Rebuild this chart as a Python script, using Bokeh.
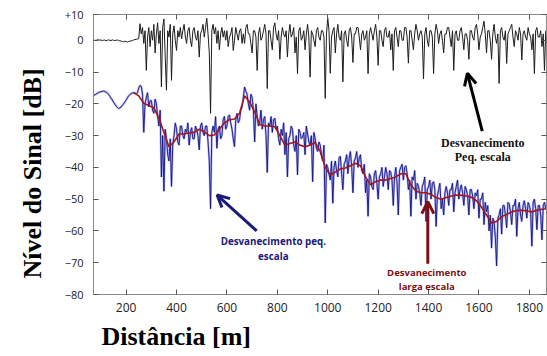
import numpy as np
from bokeh.plotting import figure
from bokeh.models import Range1d, LinearAxis, FixedTicker, Label, Arrow, OpenHead, Title
from bokeh.embed import file_html
from bokeh.resources import INLINE

# sampling grid of the measured signals (5 m step from 70 m)
start_m = 70
step_m = 5

# small-scale fading (black), one row = 100 m
black = [
    0.1, 0, -0.1, 0.1, 0.2, 0, 0.1, -0.1, 0, 0.1, -0.2, 0, 0.1, 0, -0.1, 0.1, 0, -0.1, 0, 0.1,
    -0.2, -0.1, -0.3, -0.4, -0.5, -0.3, -0.4, -0.6, -0.4, -0.3, -0.2, -0.1, 0.1, 0.2, 0.3, 0.4, 0.5, 5.2, 2, 4,
    -1, 3, -9.5, 1, 4, -2, 3, 0, 5, -4, 2, 5.5, -1, 3, -14.7, 4, 6.7, -5, -15.7, 3,
    1, 5, -12.6, 2, 4.5, 0, -3.2, 3, 1, 4, 0.5, 3, 5, 1, -1, 3, 4, 0, -2, 3,
    4, 1, 0, 3, -5.3, 2, 3, 5, 1, 4, 6.9, 2, -4, -23, 3, 5, 2, 4, -1, 3,
    -3, 2, 4, 1, 3, 0, 3, -2, 1, 2, 4, -3.2, 0, 4, 2, 0, 3, 3.6, -1, 2,
    -1, 4, 5, 2, 2, -1, -4, 3, 3, 1, -9.5, 2, 4, 0, 1, 3, 5, 2, -15.2, 3,
    3, 0, -3, 4, 5.5, 2, 0, 3, -6, 1, 4, 2, 1, 3, -5.3, 2, 5, 1, 2, 4,
    -4, 1, -10.5, 3, 4, 0, 1, 3, -3, 2, 5, 1, -11.6, 3, 2, 0, -2, 3, 4, 1,
    0, 3, 3, 1, -18.3, 2, 7, 3, -10.4, 1, 3, 4, -4, 2, 5, 1, 0, 3, -13.1, 2,
    3, 0, -2, 3, 4, 1, -7, 2, 2, 4, 4, 1, -3, 2, 3, 0, 1, 3, -10.5, 2,
    4, 2, 0, 3, 5, 1, -7.9, 3, 3, 0, -2, 3, 4, 1, 1, 3, -3, 2, -9.5, 3,
    4, 1, -2, 3, 3, 0, 0, 4, 4, 1, -7.2, 3, 3, 0, -3, 2, 5, 3, 0, 2,
    3, 1, -12.1, 2, 4, 0, -2, 3, 3, 1, -10.5, 2, 5, 3, -1, 2, 3, 0, -4, 2,
    2, 4, 4, 1, -2, 3, -9.5, 2, 3, 0, 0, 3, 4, 1, -3, 2, 2, 0, -6, 3,
    3, 1, 0, 4, 5, 2, -3, 1, 2, 4, 6, 2, -4, 3, 3, 0, -6, 2, 5, 1,
    -1, 2, -13.6, 3, 4, 1, 0, 3, -7.3, 2, 3, 4, 5, 1, -2, 3, 2, 0, 4, 2,
    -6.2, 2, 3, 1, 0, 4, 2, 1, -3, 2, -10.5, 3, 4, 1, 1, 3, -2, 2, -9.5, 3,
]

# received signal (blue), one row = 100 m
blue = [
    -17.5, -17.2, -17, -16.7, -16.5, -16.3, -16.2, -16.1, -16, -16.1, -16.3, -16.6, -17, -17.6, -18.2, -18.8, -19.5, -20.1, -20.7, -21.1,
    -21.5, -21.3, -21, -20.5, -20, -19.4, -18.8, -18.1, -17.5, -17.1, -16.8, -16.6, -16.5, -16.6, -16.8, -16.5, -15, -14.2, -14.5, -17,
    -29, -20, -18, -16.5, -21, -19, -19, -22, -23, -18.5, -20, -24, -27, -22, -43, -30, -47.5, -28, -31, -36,
    -38, -31, -46, -33, -30, -26, -28, -32, -33, -27, -27, -30, -31, -28, -29, -26, -33, -29, -27.5, -31,
    -31, -27, -28, -30, -34.5, -27, -26, -29, -30, -27, -27, -32, -38, -53, -29, -27, -29, -24, -34, -28,
    -27, -31, -30, -25, -24, -28, -27, -24, -23.5, -26, -28, -31, -33.5, -25, -23, -26, -25, -22, -21, -18,
    -14.7, -16, -17, -20, -22, -17, -18, -22, -32, -20, -24, -27, -26, -22, -28, -25, -24, -30, -41.6, -26,
    -27, -24, -29, -25, -24.5, -28, -27, -31, -33, -28, -30, -26, -36, -29, -43, -31, -30, -27, -28, -33,
    -35, -30, -42.4, -28, -29, -31, -30.5, -29, -36, -27, -29.5, -32, -33, -30, -44.5, -29, -31, -34, -35, -32,
    -33, -36, -38, -33, -57.5, -39, -40, -42, -44, -38, -51.3, -40, -38, -41, -43, -37, -36.5, -42, -47, -39,
    -38, -36, -42, -37, -35, -40, -48, -38, -37, -35, -40, -37, -36, -41, -42, -39, -48, -44, -55.4, -42,
    -43, -46, -47, -42, -41, -45, -50, -43, -42, -40, -46, -43, -40, -42, -47, -41, -41.5, -44, -52, -43,
    -40, -45, -55, -41, -40, -39, -44, -40, -39.5, -42, -47, -44, -55.4, -43, -44, -41, -50, -45, -46, -48,
    -52, -46, -45, -43, -57, -47, -46, -44, -50, -45, -44.5, -47, -58.6, -49, -47, -45, -53, -50, -55, -48,
    -46, -48, -52, -47, -47, -45, -54, -48, -46, -44, -50, -47, -45.5, -48, -52, -46, -47, -49, -55, -47,
    -47, -49, -53, -48, -49, -47, -56, -50, -50, -48, -58, -51, -54, -52, -60, -55, -65.4, -56, -57, -62,
    -71, -56, -55, -53, -61, -52, -52, -55, -59, -51, -51.5, -54, -58, -52, -52, -50, -61.7, -53, -51, -55,
    -57, -52, -50.5, -53, -56, -51, -52, -54, -64.8, -51, -50, -53, -59.6, -52, -52, -55, -62.8, -52, -51, -53,
]

# large-scale fading (red)
red_x = list(range(230, 1851, 20)) + [1868]
red = [
    -16.5, -17.5,
    -19.8, -20.5, -21.3, -24.5, -29, -33.5, -32, -29.5, -29.5, -29.2,
    -29, -28, -28.8, -30, -29.8, -28, -26, -25, -24.8, -23,
    -17.5, -19.5, -22.5, -26.5, -27, -27, -27.2, -30, -33, -32.5,
    -32, -33, -33.5, -33, -32.2, -35, -40, -42.4, -41.5, -40.5,
    -40.2, -39.5, -38.7, -39.5, -43, -45.5, -44.5, -44, -44, -43.5,
    -43, -42, -42, -45.5, -47.5, -48, -48, -48.5, -49.5, -50,
    -49.5, -49, -48.7, -48.8, -49, -49.4, -50.5, -52.5, -55, -57.5,
    -57, -55.5, -54.8, -54, -53.6, -53.5, -53.7, -54, -53.5, -53.2,
    -53,
]

x_ticks = [200, 400, 600, 800, 1000, 1200, 1400, 1600, 1800]
y_ticks = [-80, -70, -60, -50, -40, -30, -20, -10, 0, 8.1]
y_tick_labels = {8.1: "+10"}

dist_black = start_m + step_m * np.arange(len(black))
dist_blue = start_m + step_m * np.arange(len(blue))

p = figure(width=547, height=356, x_range=Range1d(70.5, 1868), y_range=Range1d(-80, 8.1),
           output_backend="svg", toolbar_location=None,
           min_border_left=88, min_border_right=1, min_border_top=14, min_border_bottom=61)
p.outline_line_color = "#8a8a8a"
p.xgrid.visible = False
p.ygrid.visible = False
p.background_fill_color = "white"
p.border_fill_color = "white"

def style_axis(ax, show_labels, size):
    ax.axis_line_color = "#8a8a8a"
    ax.major_tick_line_color = "#555555"
    ax.major_tick_in = 5
    ax.major_tick_out = 0
    ax.minor_tick_line_color = None
    if show_labels:
        ax.major_label_text_font = "Open Sans"
        ax.major_label_text_font_size = size
        ax.major_label_text_color = "#222222"
    else:
        ax.major_label_standoff = 0

p.xaxis.ticker = FixedTicker(ticks=x_ticks)
p.yaxis.ticker = FixedTicker(ticks=y_ticks)
p.yaxis.major_label_overrides = y_tick_labels
style_axis(p.xaxis[0], True, "12px")
style_axis(p.yaxis[0], True, "11px")
p.xaxis.major_label_standoff = 8
p.yaxis.major_label_standoff = 10

top = LinearAxis(ticker=FixedTicker(ticks=x_ticks),
                 major_label_overrides={t: "" for t in x_ticks})
right = LinearAxis(ticker=FixedTicker(ticks=y_ticks),
                   major_label_overrides={t: "" for t in y_ticks})
style_axis(top, False, None)
style_axis(right, False, None)
p.add_layout(top, "above")
p.add_layout(right, "right")

p.line(dist_black, black, line_color="#1c1c1c", line_width=1)
p.line(dist_blue, blue, line_color="#7878ee", line_width=2.2, line_alpha=0.55)
p.line(dist_blue, blue, line_color="#14147a", line_width=0.9)
p.line(red_x, red, line_color="#a3161e", line_width=1.6)

# axis titles
ytitle = Title(text="Nível do Sinal [dB]", align="left", offset=16, standoff=30,
               text_font="Liberation Serif", text_font_style="bold", text_font_size="26px",
               text_color="#000000")
xtitle = Title(text="Distância [m]", align="left", offset=8, standoff=11,
               text_font="Liberation Serif", text_font_style="bold", text_font_size="26px",
               text_color="#000000")
p.add_layout(ytitle, "left")
p.add_layout(xtitle, "below")

# annotations
p.add_layout(Arrow(end=OpenHead(size=12, line_color="#000000", line_width=3),
                   x_start=1613, y_start=-28.6, x_end=1554, y_end=-10.4,
                   line_color="#000000", line_width=3))
p.add_layout(Label(x=1615, y=-32.4, text="Desvanecimento", text_font="Liberation Serif",
                   text_font_style="bold", text_font_size="12px", text_align="center",
                   text_baseline="middle", text_color="#111111"))
p.add_layout(Label(x=1615, y=-36.6, text="Peq. escala", text_font="Liberation Serif",
                   text_font_style="bold", text_font_size="12px", text_align="center",
                   text_baseline="middle", text_color="#111111"))

p.add_layout(Arrow(end=OpenHead(size=12, line_color="#1a1a78", line_width=3),
                   x_start=718, y_start=-60, x_end=561, y_end=-48.7,
                   line_color="#1a1a78", line_width=3))
p.add_layout(Label(x=784, y=-63.4, text="Desvanecimento peq.", text_font="Open Sans",
                   text_font_style="bold", text_font_size="9.8px", text_align="center",
                   text_baseline="middle", text_color="#1a1a78"))
p.add_layout(Label(x=784, y=-68.1, text="escala", text_font="Open Sans",
                   text_font_style="bold", text_font_size="9.8px", text_align="center",
                   text_baseline="middle", text_color="#1a1a78"))

p.add_layout(Arrow(end=OpenHead(size=12, line_color="#7a1014", line_width=3),
                   x_start=1397, y_start=-70.3, x_end=1397, y_end=-50.8,
                   line_color="#7a1014", line_width=3))
p.add_layout(Label(x=1393, y=-73, text="Desvanecimento", text_font="Open Sans",
                   text_font_style="bold", text_font_size="9.5px", text_align="center",
                   text_baseline="middle", text_color="#7a1014"))
p.add_layout(Label(x=1393, y=-77.5, text="larga escala", text_font="Open Sans",
                   text_font_style="bold", text_font_size="9.5px", text_align="center",
                   text_baseline="middle", text_color="#7a1014"))

open("out.html", "w").write(file_html(p, INLINE))
